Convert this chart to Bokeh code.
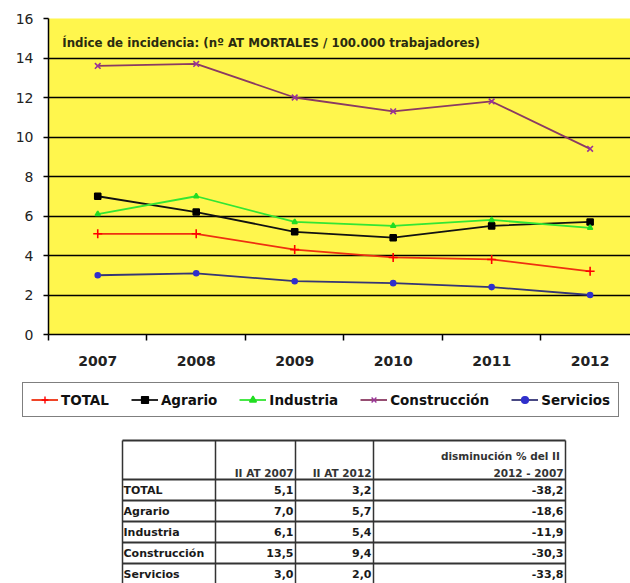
from bokeh.plotting import figure
from bokeh.models import Range1d, FixedTicker, Legend, LegendItem, Label
from bokeh.layouts import column
from bokeh.embed import file_html
from bokeh.resources import INLINE
from bokeh.core.properties import value

# ---------------- data ----------------
years = ["2007", "2008", "2009", "2010", "2011", "2012"]
total = [5.1, 5.1, 4.3, 3.9, 3.8, 3.2]
agrario = [7.0, 6.2, 5.2, 4.9, 5.5, 5.7]
industria = [6.1, 7.0, 5.7, 5.5, 5.8, 5.4]
construccion = [13.6, 13.7, 12.0, 11.3, 11.8, 9.4]
servicios = [3.0, 3.1, 2.7, 2.6, 2.4, 2.0]
y_ticks = [0, 2, 4, 6, 8, 10, 12, 14, 16]

table_rows = ["TOTAL", "Agrario", "Industria", "Construcción", "Servicios"]
ii_2007 = ["5,1", "7,0", "6,1", "13,5", "3,0"]
ii_2012 = ["3,2", "5,7", "5,4", "9,4", "2,0"]
disminucion = ["-38,2", "-18,6", "-11,9", "-30,3", "-33,8"]
header_2007 = "II AT 2007"
header_2012 = "II AT 2012"
header_dism = ["disminución  % del II", "2012 - 2007"]

title_text = "Índice de incidencia:  (nº AT MORTALES / 100.000 trabajadores)"

FONT = "DejaVu Sans"
W = 630

# ---------------- chart ----------------
xs = [i + 0.5 for i in range(len(years))]

p = figure(width=W, height=374, x_range=Range1d(0, 5.91), y_range=Range1d(0, 16),
           output_backend="svg", toolbar_location=None, frame_align=False,
           min_border_left=48, min_border_right=0, min_border_top=18, min_border_bottom=40)
p.background_fill_color = "#FFF64D"
p.border_fill_color = "white"
p.outline_line_color = None

p.xgrid.visible = False
p.ygrid.grid_line_color = "black"
p.ygrid.grid_line_width = 1.5

p.yaxis.ticker = FixedTicker(ticks=y_ticks)
p.yaxis.major_tick_out = 5
p.yaxis.major_tick_in = 0
p.yaxis.minor_tick_line_color = None
p.yaxis.axis_line_width = 1.5
p.yaxis.axis_line_color = "black"
p.yaxis.major_tick_line_color = "black"
p.yaxis.major_tick_line_width = 1.5
p.yaxis.major_label_text_font = FONT
p.yaxis.major_label_text_font_size = "14px"
p.yaxis.major_label_text_color = "#222222"
p.yaxis.major_label_standoff = 10

p.xaxis.ticker = FixedTicker(ticks=xs, minor_ticks=list(range(len(years) + 1)))
p.xaxis.major_label_overrides = {x: y for x, y in zip(xs, years)}
p.xaxis.major_tick_line_color = None
p.xaxis.major_tick_out = 0
p.xaxis.major_tick_in = 0
p.xaxis.minor_tick_out = 6
p.xaxis.minor_tick_in = 0
p.xaxis.minor_tick_line_color = "black"
p.xaxis.minor_tick_line_width = 1.5
p.xaxis.axis_line_width = 1.5
p.xaxis.axis_line_color = "black"
p.xaxis.major_label_text_font = FONT
p.xaxis.major_label_text_font_size = "14px"
p.xaxis.major_label_text_font_style = "bold"
p.xaxis.major_label_text_color = "#222222"
p.xaxis.major_label_standoff = 15

series = [
    ("TOTAL", total, "#EE3010", "#FF0000", "cross", 9),
    ("Agrario", agrario, "#111111", "#000000", "square", 6),
    ("Industria", industria, "#33E633", "#22DD22", "triangle", 5),
    ("Construcción", construccion, "#8B3A62", "#993399", "x", 8),
    ("Servicios", servicios, "#353575", "#3030CC", "circle", 5),
]
for name, vals, lc, mc, marker, size in series:
    p.line(xs, vals, line_color=lc, line_width=1.8)
    p.scatter(xs, vals, marker=marker, size=size, line_color=mc, fill_color=mc, line_width=1.6)

p.add_layout(Label(x=0.14, y=14.78, text=title_text, text_font=FONT, text_font_size="11.8px",
                   text_font_style="bold", text_baseline="middle", text_color="#2A2A10"))

# ---------------- legend strip ----------------
LH = 58
lg = figure(width=W, height=LH, x_range=Range1d(0, 1), y_range=Range1d(0, 1),
            output_backend="svg", toolbar_location=None, min_border=0, frame_align=False,
            x_axis_type=None, y_axis_type=None)
lg.outline_line_color = None
lg.grid.visible = False
lg.background_fill_color = "white"
lg.border_fill_color = "white"
nan = float("nan")
items = []
for name, vals, lc, mc, marker, size in series:
    r1 = lg.line(x=[nan, nan], y=[nan, nan], line_color=lc, line_width=1.8)
    r2 = lg.scatter(x=[nan], y=[nan], marker=marker, size=size - 2, line_color=mc, fill_color=mc, line_width=1.4)
    items.append(LegendItem(label=name, renderers=[r1, r2]))
legend = Legend(items=items, orientation="horizontal", location=(22, 15),
                label_text_font=FONT, label_text_font_size="13.5px", label_text_font_style="bold",
                label_text_color="#111111", glyph_width=27, glyph_height=17, label_height=17,
                label_standoff=3, spacing=22, padding=8, margin=0,
                border_line_color="black", border_line_width=1.5,
                background_fill_color="white", background_fill_alpha=1.0)
lg.add_layout(legend)

# ---------------- table ----------------
TH = 151
t = figure(width=W, height=TH, x_range=Range1d(0, W), y_range=Range1d(TH, 0),
           output_backend="svg", toolbar_location=None, min_border=0, frame_align=False,
           x_axis_type=None, y_axis_type=None)
t.outline_line_color = None
t.grid.visible = False
t.background_fill_color = "white"
t.border_fill_color = "white"

col_w = [93, 80, 78, 192]
table_left = 122
table_top = 8
header_h = 39
row_h = 21
col_edges = [table_left]
for w in col_w:
    col_edges.append(col_edges[-1] + w)
row_edges = [table_top, table_top + header_h]
for _ in table_rows:
    row_edges.append(row_edges[-1] + row_h)

t.segment(x0=[col_edges[0]] * len(row_edges), x1=[col_edges[-1]] * len(row_edges),
          y0=row_edges, y1=row_edges, line_color="#333333", line_width=2)
t.segment(x0=col_edges, x1=col_edges, y0=[row_edges[0]] * len(col_edges),
          y1=[row_edges[-1]] * len(col_edges), line_color="#333333", line_width=1.5)

row_centers = [(row_edges[i + 1] + row_edges[i + 2]) / 2 for i in range(len(table_rows))]
tfont = dict(text_font=value(FONT), text_font_size="11px", text_font_style="bold",
             text_baseline="middle", text_color="#1A1A1A")
t.text(x=[col_edges[0] + 1] * len(table_rows), y=row_centers, text=table_rows, text_align="left", **tfont)
t.text(x=[col_edges[2] - 2] * len(table_rows), y=row_centers, text=ii_2007, text_align="right", **tfont)
t.text(x=[col_edges[3] - 2] * len(table_rows), y=row_centers, text=ii_2012, text_align="right", **tfont)
t.text(x=[col_edges[4] - 2] * len(table_rows), y=row_centers, text=disminucion, text_align="right", **tfont)

hfont = dict(text_font=value(FONT), text_font_size="10.5px", text_font_style="bold",
             text_baseline="middle", text_color="#333333", text_align="right")
hy = row_edges[1] - 7
t.text(x=[col_edges[2] - 2, col_edges[3] - 2], y=[hy, hy], text=[header_2007, header_2012], **hfont)
t.text(x=[col_edges[4] - 2, col_edges[4] - 2], y=[hy - 17, hy], text=header_dism, **hfont)

layout = column(p, lg, t)
open("out.html", "w").write(file_html(layout, INLINE))
